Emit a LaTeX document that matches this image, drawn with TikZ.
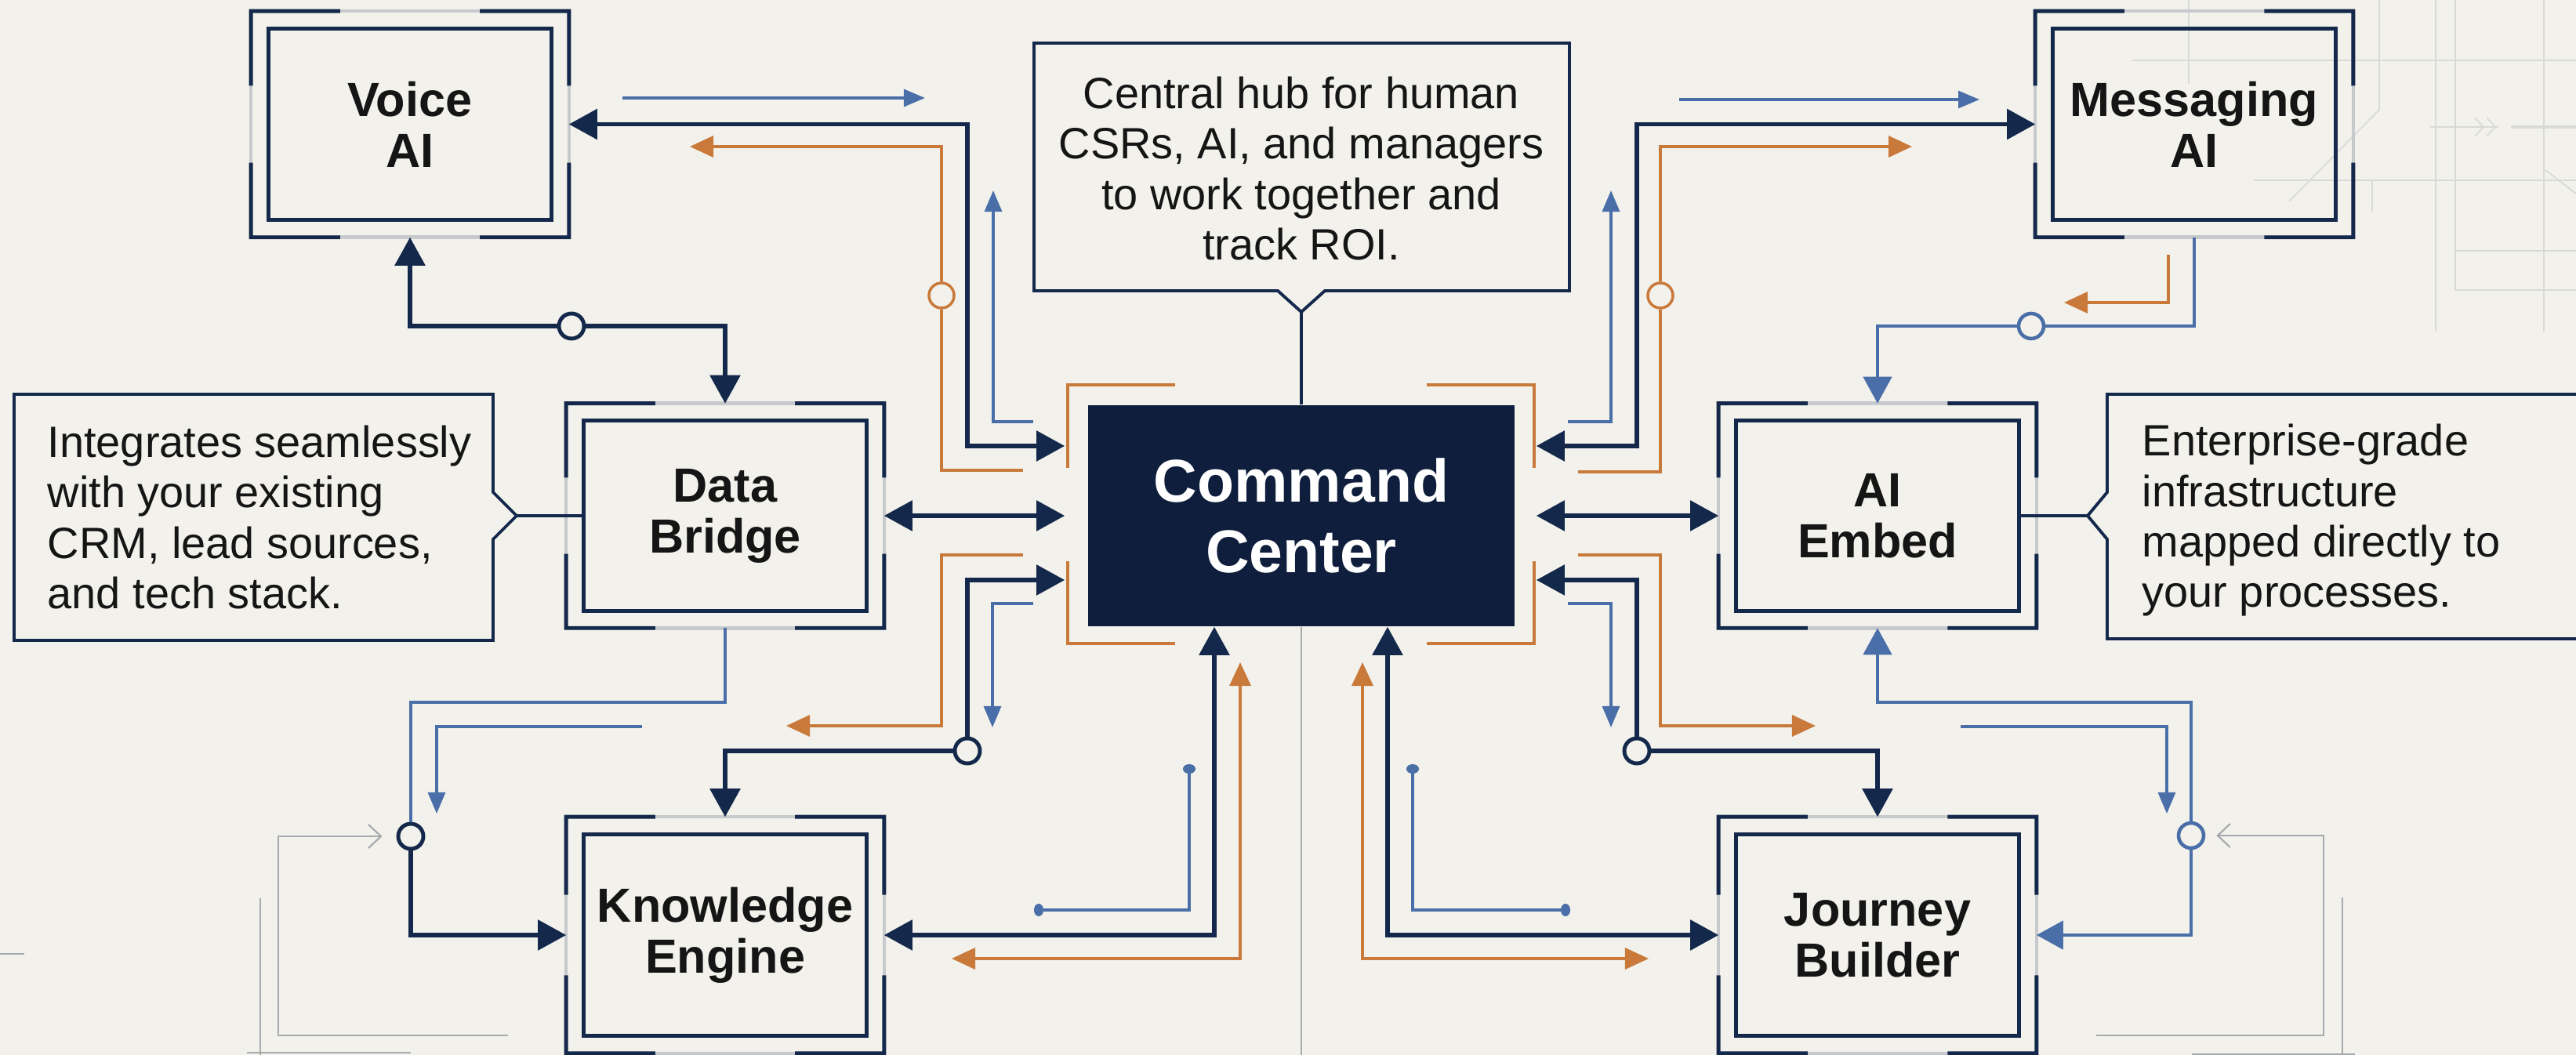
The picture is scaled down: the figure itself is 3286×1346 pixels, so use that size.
\documentclass[tikz,border=0pt]{standalone}
\usepackage{fontspec}
\setmainfont{Liberation Sans}
\usetikzlibrary{arrows.meta,calc}

\definecolor{navy}{HTML}{13284A}
\definecolor{ccfill}{HTML}{0F1E3C}
\definecolor{steel}{HTML}{4A6FA8}
\definecolor{rust}{HTML}{C97A3B}
\definecolor{wire}{HTML}{A5AAAD}
\definecolor{faint}{HTML}{D9DAD7}
\definecolor{paper}{HTML}{F2F1EC}
\definecolor{framegray}{HTML}{C6CACC}
\definecolor{ink}{HTML}{151515}

\tikzset{
  navyln/.style={draw=navy,line width=1.6pt,>={Triangle[length=0.36cm,width=0.38cm]}},
  blueln/.style={draw=steel,line width=1.3pt,>={Triangle[length=0.34cm,width=0.36cm]}},
  bluethin/.style={draw=steel,line width=0.9pt,>={Triangle[length=0.27cm,width=0.22cm]}},
  dotline/.style={draw=steel,line width=0.9pt,arrows={Circle[length=0.12cm,width=0.16cm]-Circle[length=0.12cm,width=0.16cm]}},
  orangeln/.style={draw=rust,line width=1pt,>={Triangle[length=0.3cm,width=0.27cm]}},
  grayln/.style={draw=wire,line width=0.6pt,>={Straight Barb[length=0.16cm,width=0.3cm]}},
  faintln/.style={draw=faint,line width=0.5pt},
  calloutln/.style={draw=navy,line width=0.9pt},
  callout/.style={draw=navy,line width=1.1pt,line join=miter},
  junc/.style={circle,minimum size=0.32cm,inner sep=0pt,fill=paper},
  box/.style={minimum width=4.04cm,minimum height=2.87cm,inner sep=0pt,align=center,text=ink,
    font=\fontsize{17.4}{18.5}\selectfont\bfseries},
  note/.style={inner sep=0pt,text=ink,font=\fontsize{15.9}{18.3}\selectfont},
}

% double frame: light outer rim with dark corners, dark inner box
\newcommand\nodeframe[1]{%
  \draw[framegray,line width=1.3pt] (#1.north west) rectangle (#1.south east);
  \draw[navy,line width=1.4pt] ($(#1.north west)!.28!(#1.north east)$) -- (#1.north west) -- ($(#1.north west)!.33!(#1.south west)$);
  \draw[navy,line width=1.4pt] ($(#1.north east)!.28!(#1.north west)$) -- (#1.north east) -- ($(#1.north east)!.33!(#1.south east)$);
  \draw[navy,line width=1.4pt] ($(#1.south west)!.28!(#1.south east)$) -- (#1.south west) -- ($(#1.south west)!.33!(#1.north west)$);
  \draw[navy,line width=1.4pt] ($(#1.south east)!.28!(#1.south west)$) -- (#1.south east) -- ($(#1.south east)!.33!(#1.north east)$);
  \draw[navy,line width=1.5pt] ([shift={(22,22)}]#1.north west) rectangle ([shift={(-22,-22)}]#1.south east);
}

\begin{document}
\begin{tikzpicture}[x=0.01cm,y=-0.01cm]
\useasboundingbox (0,0) rectangle (3286,1346);
\fill[paper] (0,0) rectangle (3286,1346);
\clip (0,0) rectangle (3286,1346);

% faint grid, top right
\draw[faintln] (2792,0) -- (2792,107);
\draw[faintln] (3035,0) -- (3035,140) -- (2920,257);
\draw[faintln] (3107,0) -- (3107,423);
\draw[faintln] (3132,0) -- (3132,370) -- (3286,370);
\draw[faintln] (3132,320) -- (3286,320);
\draw[faintln] (3245,0) -- (3245,423);
\draw[faintln] (2719,77) -- (3286,77);
\draw[faintln] (2875,230) -- (3286,230);
\draw[faintln] (3026,230) -- (3026,270);
\draw[faintln] (3247,217) -- (3286,247);
\draw[faintln] (3100,162) -- (3187,162);
\draw[faintln] (3157,150) -- (3168,162) -- (3157,174) (3172,150) -- (3183,162) -- (3172,174);
\draw[faintln,line width=1pt] (3203,162) -- (3286,162);

% modules
\node[box] (voice) at (523,158.5) {Voice\\AI};
\node[box] (msg) at (2799,158.5) {Messaging\\AI};
\node[box,minimum height=2.85cm] (bridge) at (925,658) {Data\\Bridge};
\node[box,minimum height=2.85cm] (embed) at (2395,658) {AI\\Embed};
\node[box,minimum height=3cm] (know) at (925,1193) {Knowledge\\Engine};
\node[box,minimum height=3cm] (journey) at (2395,1193) {Journey\\Builder};
\foreach \b in {voice,msg,bridge,embed,know,journey} \nodeframe{\b};

\node[fill=ccfill,minimum width=5.44cm,minimum height=2.82cm,text=white,align=center,
  font=\fontsize{21.9}{25.6}\selectfont\bfseries] (cc) at (1660,658) {Command\\Center};

% callouts
\draw[callout] (1319,55) -- (2002,55) -- (2002,371) -- (1690,371) -- (1660,398) -- (1630,371) -- (1319,371) -- cycle;
\coordinate (hubtip) at (1660,398);
\node[note,align=center] (hubnote) at (1660,215) {Central hub for human\\CSRs, AI, and managers\\to work together and\\track ROI.};

\draw[callout] (18,503) -- (629,503) -- (629,628) -- (659,658) -- (629,688) -- (629,817) -- (18,817) -- cycle;
\coordinate (crmtip) at (659,658);
\node[note,align=left,anchor=west] (crmnote) at (60,660) {Integrates seamlessly\\with your existing\\CRM, lead sources,\\and tech stack.};

\draw[callout] (3320,503) -- (2688,503) -- (2688,628) -- (2663,658) -- (2688,688) -- (2688,815) -- (3320,815);
\coordinate (embtip) at (2663,658);
\node[note,align=left,anchor=west] (embnote) at (2732,664) {Enterprise-grade\\infrastructure\\mapped directly to\\your processes.};

\draw[calloutln] (hubtip) -- (cc.north);
\draw[calloutln] (crmtip) -- ([shift={(22,0)}]bridge.west);
\draw[calloutln] ([shift={(-22,0)}]embed.east) -- (embtip);

% junctions
\node[junc,draw=navy,line width=1.4pt] (j1) at (729,416) {};
\node[junc,draw=navy,line width=1.4pt] (j2) at (524,1067) {};
\node[junc,draw=navy,line width=1.4pt] (j3) at (1234,958) {};
\node[junc,draw=navy,line width=1.4pt] (j4) at (2088,958) {};
\node[junc,draw=steel,line width=1.3pt] (j5) at (2795,1066) {};
\node[junc,draw=steel,line width=1.3pt] (j6) at (2591,416) {};
\node[junc,draw=rust,line width=1pt] (o1) at (1201,377) {};
\node[junc,draw=rust,line width=1pt] (o2) at (2118,377) {};

% free ends
\coordinate (tlblue1) at (794,125);   \coordinate (tlblue2) at (1180,125);
\coordinate (tlor1) at (1305,600);    \coordinate (tlor2) at (880,187);
\coordinate (tlthin1) at (1318,538);  \coordinate (tlthin2) at (1267,243);
\coordinate (blor1) at (1305,708);    \coordinate (blor2) at (1003,926);
\coordinate (blthin1) at (1318,770);  \coordinate (blthin2) at (1266,928);
\coordinate (blkn1) at (819,927);     \coordinate (blkn2) at (557,1038);
\coordinate (blgray) at (648,1321);
\coordinate (bcor1) at (1214,1223);   \coordinate (bcor2) at (1582,845);
\coordinate (bcor3) at (2103,1223);   \coordinate (bcor4) at (1738,845);
\coordinate (bcdot1) at (1517,975);   \coordinate (bcdot2) at (1319,1161);
\coordinate (bcdot3) at (1802,975);   \coordinate (bcdot4) at (2003,1161);
\coordinate (ccfoot) at (1660,1346);
\coordinate (bror1) at (2013,708);    \coordinate (bror2) at (2316,926);
\coordinate (brthin1) at (2000,770);  \coordinate (brthin2) at (2055,928);
\coordinate (brjb1) at (2501,927);    \coordinate (brjb2) at (2764,1038);
\coordinate (brgray) at (2674,1321);
\coordinate (trblue1) at (2142,127);  \coordinate (trblue2) at (2525,127);
\coordinate (tror1) at (2013,602);    \coordinate (tror2) at (2439,187);
\coordinate (trthin1) at (2000,538);  \coordinate (trthin2) at (2055,243);
\coordinate (trsm1) at (2766,325);    \coordinate (trsm2) at (2633,386);

% orange brackets round the hub
\draw[orangeln] ([shift={(112,-25)}]cc.north west) -| ([shift={(-25,81)}]cc.north west);
\draw[orangeln] ([shift={(-113,-25)}]cc.north east) -| ([shift={(24,81)}]cc.north east);
\draw[orangeln] ([shift={(-25,-84)}]cc.south west) |- ([shift={(112,21)}]cc.south west);
\draw[orangeln] ([shift={(24,-84)}]cc.south east) |- ([shift={(-113,21)}]cc.south east);

% top left
\draw[navyln,<->] (voice.east) -| (1234,569) -- ([shift={(-29,-89)}]cc.west);
\draw[bluethin,->] (tlblue1) -- (tlblue2);
\draw[orangeln] (tlor1) -| (o1);
\draw[orangeln,->] (o1) |- (tlor2);
\draw[bluethin,->] (tlthin1) -| (tlthin2);
\draw[navyln,->] (j1) -| (voice.south);
\draw[navyln,->] (j1) -| (bridge.north);

% left middle
\draw[navyln,<->] (bridge.east) -- ([shift={(-29,0)}]cc.west);

% bottom left
\draw[orangeln,->] (blor1) -| (1201,926) -- (blor2);
\draw[navyln,->] (j3) |- ([shift={(-29,82)}]cc.west);
\draw[navyln,->] (j3) -| (know.north);
\draw[bluethin,->] (blthin1) -| (blthin2);
\draw[blueln] (bridge.south) |- (524,896) -- (j2);
\draw[navyln,->] (j2) |- (know.west);
\draw[bluethin,->] (blkn1) -| (blkn2);
\draw[grayln,->,shorten >=0.18cm] (blgray) -| (355,1067) -- (j2);
\draw[grayln] (332,1146) -- (332,1346) (315,1343) -- (524,1343) (0,1217) -- (31,1217);

% bottom centre
\draw[navyln,<->] (know.east) -| ([shift={(-111,0)}]cc.south);
\draw[navyln,<->] (journey.west) -| ([shift={(110,0)}]cc.south);
\draw[orangeln,<->] (bcor1) -| (bcor2);
\draw[orangeln,<->] (bcor3) -| (bcor4);
\draw[dotline] (bcdot1) |- (bcdot2);
\draw[dotline] (bcdot3) |- (bcdot4);
\draw[grayln] (cc.south) -- (ccfoot);

% top right
\draw[navyln,<->] (msg.west) -| (2088,569) -- ([shift={(27,-89)}]cc.east);
\draw[bluethin,->] (trblue1) -- (trblue2);
\draw[orangeln] (tror1) -| (o2);
\draw[orangeln,->] (o2) |- (tror2);
\draw[bluethin,->] (trthin1) -| (trthin2);
\draw[blueln] (msg.south) |- (j6);
\draw[blueln,->] (j6) -| (embed.north);
\draw[orangeln,->] (trsm1) |- (trsm2);

% right middle
\draw[navyln,<->] ([shift={(27,0)}]cc.east) -- (embed.west);

% bottom right
\draw[orangeln,->] (bror1) -| (2118,926) -- (bror2);
\draw[navyln,->] (j4) |- ([shift={(27,82)}]cc.east);
\draw[navyln,->] (j4) -| (journey.north);
\draw[bluethin,->] (brthin1) -| (brthin2);
\draw[blueln,->] (j5) |- (2395,896) -- (embed.south);
\draw[blueln,->] (j5) |- (journey.east);
\draw[bluethin,->] (brjb1) -| (brjb2);
\draw[grayln,->,shorten >=0.14cm] (brgray) -| (2964,1066) -- (j5);
\draw[grayln] (2988,1145) -- (2988,1346) (2796,1345) -- (3004,1345);
\end{tikzpicture}
\end{document}
